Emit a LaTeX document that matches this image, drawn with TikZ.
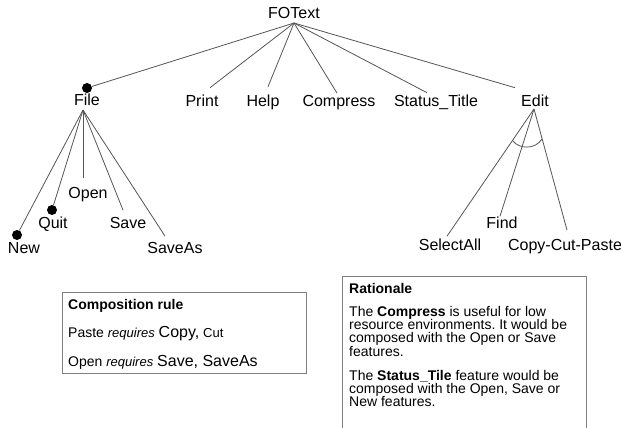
\documentclass[tikz,border=0pt]{standalone}
\usepackage{fontspec}
\setmainfont{Liberation Sans}
\definecolor{linegray}{HTML}{555555}
\definecolor{boxgray}{HTML}{808080}
\frenchspacing
\begin{document}
\begin{tikzpicture}[x=1pt,y=-1pt,
  lbl/.style={font=\fontsize{16}{19}\selectfont, inner sep=0pt, anchor=base},
  dotnode/.style={circle, fill=black, inner sep=0pt, minimum size=10pt},
  link/.style={draw=linegray, line width=0.8pt},
  boxline/.style={draw=boxgray, line width=1pt},
  boxtitle/.style={anchor=base west, inner sep=0pt, font=\fontsize{14}{16}\selectfont\bfseries},
  boxtext/.style={anchor=base west, inner sep=0pt, font=\fontsize{14}{16}\selectfont}]
\useasboundingbox (0,0) rectangle (621,428);

% labels
\node[lbl] (FOText) at (294,19) {FOText};
\node[lbl] (File) at (87,105) {File};
\node[lbl] (Print) at (202,106) {Print};
\node[lbl] (Help) at (263,106) {Help};
\node[lbl] (Compress) at (339,106) {Compress};
\node[lbl] (Status) at (436,106) {Status\_Title};
\node[lbl] (Edit) at (535,106) {Edit};
\node[lbl] (Open) at (88,198) {Open};
\node[lbl] (Quit) at (53,228) {Quit};
\node[lbl] (Save) at (128,228) {Save};
\node[lbl] (New) at (24,253) {New};
\node[lbl] (SaveAs) at (175,253) {SaveAs};
\node[lbl] (Find) at (502,228) {Find};
\node[lbl] (SelectAll) at (450,250) {SelectAll};
\node[lbl] (CCP) at (565,250) {Copy-Cut-Paste};

% dots
\node[dotnode] (dFile) at (87,88) {};
\node[dotnode] (dQuit) at (52,210) {};
\node[dotnode] (dNew) at (17,235) {};

% branching points
\coordinate (fo) at ([yshift=-4pt]FOText.base);
\coordinate (fi) at ([xshift=-4pt,yshift=-5pt]File.base);
\coordinate (ed) at ([xshift=-1pt,yshift=-3pt]Edit.base);

% FOText children
\draw[link] (fo) -- (dFile);
\draw[link] (fo) -- ([xshift=8pt,yshift=6.5pt]Print.north);
\draw[link] (fo) -- ([xshift=5pt,yshift=7.5pt]Help.north);
\draw[link] (fo) -- ([xshift=-2pt,yshift=1.5pt]Compress.north);
\draw[link] (fo) -- ([xshift=-9pt,yshift=1.5pt]Status.north);
\draw[link] (fo) -- ([xshift=-20pt,yshift=6.5pt]Edit.north);

% File children
\draw[link] (fi) -- (dNew);
\draw[link] (fi) -- (dQuit);
\draw[link] (fi) -- ([xshift=-5pt,yshift=8.5pt]Open.north);
\draw[link] (fi) -- ([xshift=-5pt,yshift=6.5pt]Save.north);
\draw[link] (fi) -- ([xshift=-10pt,yshift=5.5pt]SaveAs.north);

% Edit children
\draw[link] (ed) -- ([xshift=-3pt,yshift=2pt]SelectAll.north);
\draw[link] (ed) -- ([xshift=-2pt,yshift=0pt]Find.north);
\draw[link] (ed) -- ([xshift=2pt,yshift=8.5pt]CCP.north);
\draw[link] (513,141) .. controls (519,149) and (535,150) .. (542,139);

% Composition rule box
\node[boxline, minimum width=244pt, minimum height=81pt, inner sep=0pt, anchor=north west] (comp) at (62,292) {};
\node[boxtitle] (ct) at (68,309) {Composition rule};
\node[boxtext] (c1) at (68,337) {Paste {\fontsize{13}{15}\selectfont\itshape requires} {\fontsize{16}{18}\selectfont Copy,} {\fontsize{13}{15}\selectfont Cut}};
\node[boxtext] (c2) at (68,366) {Open {\fontsize{13}{15}\selectfont\itshape requires} {\fontsize{16}{18}\selectfont Save, SaveAs}};

% Rationale box
\draw[boxline] (342,428) -- (342,276) -- (586,276) -- (586,428);
\node[boxtitle] (rt) at (349,293) {Rationale};
\node[boxtext] (r1) at (349,316) {The \textbf{Compress} is useful for low};
\node[boxtext] (r2) at (349,329.3) {resource environments. It would be};
\node[boxtext] (r3) at (349,342.6) {composed with the Open or Save};
\node[boxtext] (r4) at (349,356) {features.};
\node[boxtext] (r5) at (349,380) {The \textbf{Status\_Tile} feature would be};
\node[boxtext] (r6) at (349,393.3) {composed with the Open, Save or};
\node[boxtext] (r7) at (349,406.7) {New features.};
\end{tikzpicture}
\end{document}
